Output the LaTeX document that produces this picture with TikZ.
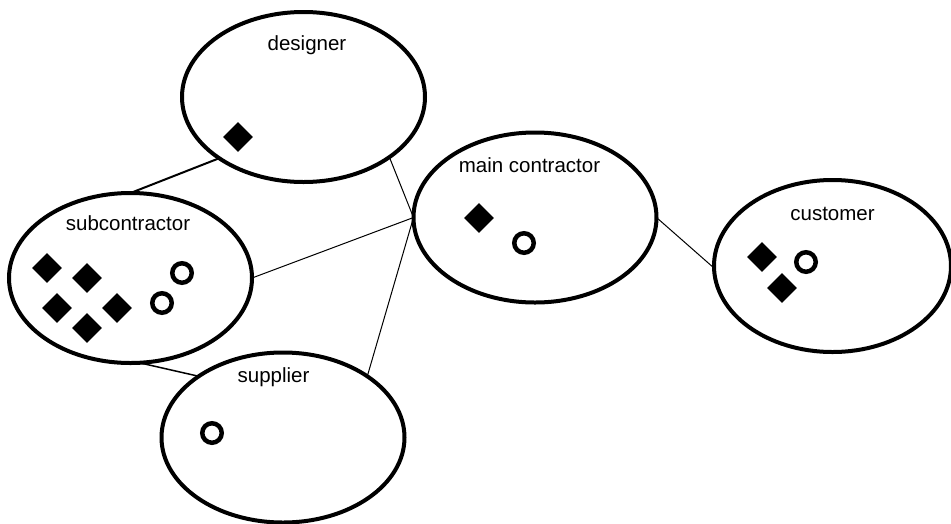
\documentclass[tikz,border=0pt]{standalone}
\usepackage{fontspec}
\setmainfont{Liberation Sans}
\usetikzlibrary{shapes.geometric}
\begin{document}
\begin{tikzpicture}[x=1pt,y=-1pt,
  party/.style={draw, ellipse, line width=4pt, inner sep=0pt, outer sep=0pt,
                minimum width=243pt, minimum height=170pt},
  partyname/.style={anchor=base, inner sep=0pt, font=\fontsize{20.5}{24}\selectfont},
  gem/.style={diamond, fill=black, draw=none, inner sep=0pt,
              minimum width=30pt, minimum height=30pt},
  ring/.style={circle, draw, line width=4.5pt, inner sep=0pt, minimum size=19.5pt},
  link/.style={line width=1pt}]
\useasboundingbox (0,0) rectangle (951,523);

% parties
\node[party] (designer) at (303.5,97) {};
\node[party] (sub) at (130.5,278) {};
\node[party] (supplier) at (283,437.5) {};
\node[party] (main) at (535,217.5) {};
\node[party, minimum width=237pt, minimum height=172pt] (customer) at (832.5,266) {};

% names
\node[partyname] (tdesigner) at (307,50) {designer};
\node[partyname] (tsub) at (128,230) {subcontractor};
\node[partyname] (tsupplier) at (273.5,382) {supplier};
\node[partyname] (tmain) at (529.5,172) {main contractor};
\node[partyname] (tcustomer) at (832.5,220) {customer};

% designer
\node[gem] (dg1) at (238,137) {};

% subcontractor
\node[gem] (sg1) at (47,268) {};
\node[gem] (sg2) at (87,278) {};
\node[gem] (sg3) at (57,308) {};
\node[gem] (sg4) at (117,308) {};
\node[gem] (sg5) at (87,328) {};
\node[ring] (sr1) at (182,273) {};
\node[ring] (sr2) at (162,303) {};

% supplier
\node[ring] (pr1) at (212,433) {};

% main contractor
\node[gem] (mg1) at (479,218) {};
\node[ring] (mr1) at (524,243) {};

% customer
\node[gem] (cg1) at (762,257) {};
\node[gem] (cg2) at (782,288) {};
\node[ring] (cr1) at (806,262) {};

% links
\draw[line width=2pt] (designer.216) -- (sub.90);
\draw[link] (designer.-35) -- (main.180);
\draw[link] (sub.0) -- (main.180);
\draw[link] (supplier.36) -- (main.180);
\draw[line width=1.5pt] (sub.276) -- (supplier.144);
\draw[link] (main.0) -- (customer.181);
\end{tikzpicture}
\end{document}
